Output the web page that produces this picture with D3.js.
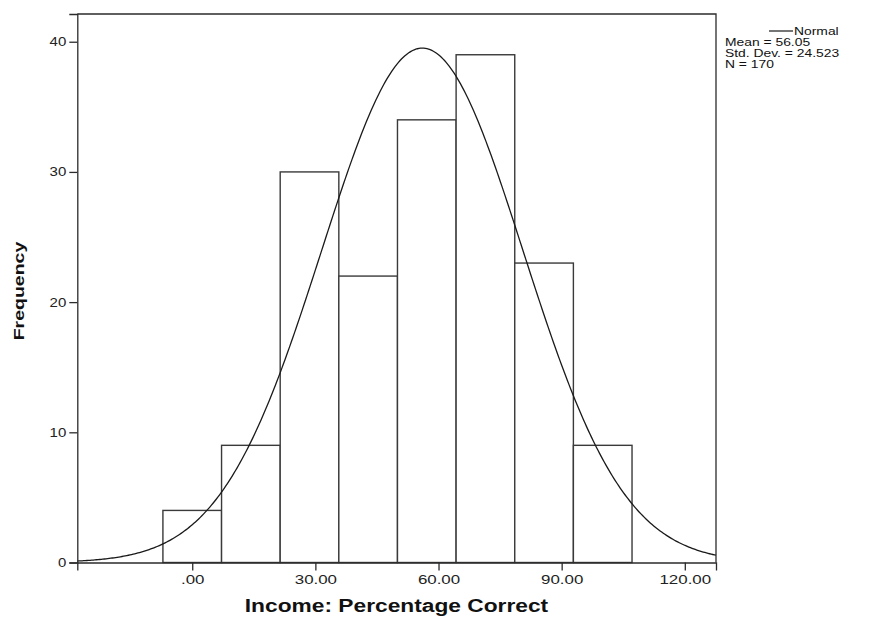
<!DOCTYPE html>
<html>
<head>
<meta charset="utf-8">
<script src="https://cdn.jsdelivr.net/npm/d3@7"></script>
<style>
  html, body { margin: 0; padding: 0; background: #fff; }
  svg { display: block; font-family: "Liberation Sans", Arial, sans-serif; }
</style>
</head>
<body>
<svg id="chart" width="872" height="619"></svg>
<script>
// Histogram bins (lower edge) and counts
const binStarts = [-7.142857, 7.142857, 21.428571, 35.714286, 50, 64.285714, 78.571429, 92.857143];
const binWidth = 14.285714;
const counts = [4, 9, 30, 22, 34, 39, 23, 9];

// Summary statistics shown in the legend
const mean = 56.05;
const stdDev = 24.523;
const n = 170;

const xTicks = [0, 30, 60, 90, 120];
const xTickLabels = [".00", "30.00", "60.00", "90.00", "120.00"];
const yTicks = [0, 10, 20, 30, 40];

(function draw() {
  const svg = d3.select("#chart");
  const plotLeft = 77.3, plotRight = 716, plotTop = 14, plotBottom = 562.5;
  const xMin = -28.0, xMax = 127.6;

  const x = d3.scaleLinear().domain([xMin, xMax]).range([plotLeft, plotRight]);
  const y = d3.scaleLinear().domain([0, 42.13]).range([plotBottom, plotTop]);

  const ink = "#2b2b2b";

  // Widen a text run: the chart's typeface is broader than the installed sans
  const widen = (sel, factor) => sel.each(function () {
    const w = this.getComputedTextLength();
    d3.select(this).attr("textLength", (w * factor).toFixed(1)).attr("lengthAdjust", "spacingAndGlyphs");
  });

  // Bars
  svg.append("g").selectAll("rect")
    .data(binStarts.map((s, i) => ({ s, c: counts[i] })))
    .join("rect")
    .attr("x", d => x(d.s))
    .attr("y", d => y(d.c))
    .attr("width", d => x(d.s + binWidth) - x(d.s))
    .attr("height", d => y(0) - y(d.c))
    .attr("fill", "#fff")
    .attr("stroke", "#3a3a3a")
    .attr("stroke-width", 1.4);

  // Fitted normal curve scaled to the bin width
  const pdf = v => Math.exp(-0.5 * ((v - mean) / stdDev) ** 2) / (stdDev * Math.sqrt(2 * Math.PI));
  const curvePts = d3.range(0, 401).map(i => {
    const v = xMin + (xMax - xMin) * i / 400;
    return [v, n * binWidth * pdf(v)];
  });
  svg.append("path")
    .datum(curvePts)
    .attr("fill", "none")
    .attr("stroke", "#1a1a1a")
    .attr("stroke-width", 1.3)
    .attr("d", d3.line().x(d => x(d[0])).y(d => y(d[1])));

  // Frame: top and right edges
  svg.append("path")
    .attr("d", `M${plotLeft},${plotTop}H${plotRight}V${plotBottom}`)
    .attr("fill", "none")
    .attr("stroke", ink)
    .attr("stroke-width", 1.3);

  // Axes
  const xAxis = d3.axisBottom(x).tickValues(xTicks)
    .tickFormat((d, i) => xTickLabels[i]).tickSizeOuter(0).tickSize(8).tickPadding(4);
  const gx = svg.append("g").attr("transform", `translate(0,${plotBottom})`).call(xAxis);

  const yAxis = d3.axisLeft(y).tickValues(yTicks).tickSizeOuter(0).tickSize(8).tickPadding(3);
  const gy = svg.append("g").attr("transform", `translate(${plotLeft},0)`).call(yAxis);

  [gx, gy].forEach(g => {
    g.select(".domain").attr("stroke", ink).attr("stroke-width", 1.3);
    g.selectAll(".tick line").attr("stroke", ink).attr("stroke-width", 1.3);
    g.selectAll(".tick text").attr("fill", "#222")
      .style("font-family", "'Liberation Sans', Arial, sans-serif");
  });
  gx.selectAll(".tick text").style("font-size", "13px").call(widen, 1.3);
  gy.selectAll(".tick text").style("font-size", "12.5px").call(widen, 1.2);

  // Axis titles
  svg.append("text")
    .attr("x", 396.5).attr("y", 612)
    .attr("text-anchor", "middle")
    .style("font-size", "17.5px").style("font-weight", "bold")
    .attr("fill", "#111")
    .text("Income: Percentage Correct")
    .call(widen, 1.3);

  svg.append("text")
    .attr("transform", "translate(24,291) rotate(-90)")
    .attr("text-anchor", "middle")
    .style("font-size", "15px").style("font-weight", "bold")
    .attr("fill", "#111")
    .text("Frequency")
    .call(widen, 1.3);

  // Legend
  const lg = svg.append("g").attr("fill", "#111").style("font-size", "10.2px");
  lg.append("line").attr("x1", 769).attr("x2", 793).attr("y1", 31).attr("y2", 31)
    .attr("stroke", "#1a1a1a").attr("stroke-width", 1.2);
  lg.append("text").attr("x", 794).attr("y", 35).text("Normal");
  lg.append("text").attr("x", 725).attr("y", 46).text(`Mean = ${mean.toFixed(2)}`);
  lg.append("text").attr("x", 725).attr("y", 57).text(`Std. Dev. = ${stdDev.toFixed(3)}`);
  lg.append("text").attr("x", 725).attr("y", 68).text(`N = ${n}`);
  lg.selectAll("text").call(widen, 1.36);
})();
</script>
</body>
</html>
